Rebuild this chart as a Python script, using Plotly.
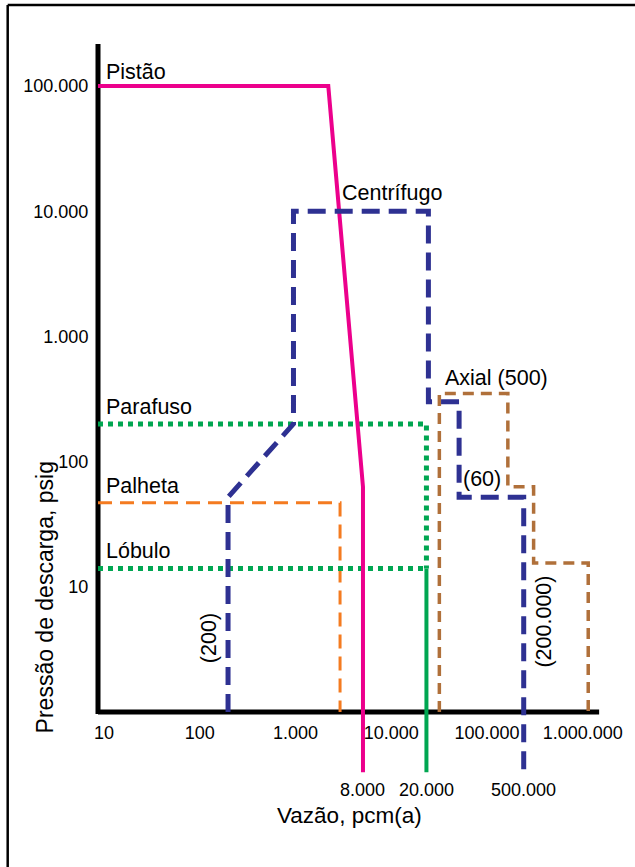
import numpy as np
import plotly.graph_objects as go

# ---------------- data ----------------
PISTAO_X = [10, 2540, 5850, 5850]
PISTAO_Y = [100000, 100000, 63, 0.33]

CENTRIF_X = [228, 228, 1100, 1100, 28200, 28200, 59000, 59000, 279000, 279000]
CENTRIF_Y = [1, 52, 200, 10000, 10000, 300, 300, 52, 52, 0.33]

PALHETA_X = [10, 3370, 3370]
PALHETA_Y = [47, 47, 1]

PARAFUSO_X = [10, 26900, 26900]
PARAFUSO_Y = [200, 200, 14]

LOBULO_X = [10, 26900]
LOBULO_Y = [14, 14]
LOBULO_SOLID_X = [26900, 26900]
LOBULO_SOLID_Y = [14, 0.33]

AXIAL_X = [36700, 36700, 190500, 190500, 354000, 354000, 1316000, 1316000]
AXIAL_Y = [1, 350, 350, 63, 63, 15.5, 15.5, 1]

X_TICK_VALS = [10, 100, 1000, 10000, 100000, 1000000]
X_TICK_TEXT = ["10", "100", "1.000", "10.000", "100.000", "1.000.000"]
Y_TICK_VALS = [10, 100, 1000, 10000, 100000]
Y_TICK_TEXT = ["10", "100", "1.000", "10.000", "100.000"]

LIMIT_LABELS = ["8.000", "20.000", "500.000"]
LIMIT_X = [PISTAO_X[-1], LOBULO_SOLID_X[-1], CENTRIF_X[-1]]

# ---------------- styling ----------------
PINK = "#EC008C"
BLUE = "#2E3192"
ORANGE = "#F47B20"
GREEN = "#00A651"
BROWN = "#B0703A"
FONT = "Liberation Sans, Arial, Helvetica, sans-serif"

W, H = 635, 867
ML, MR, MT, MB = 98, 15, 40, 87
PW = W - ML - MR
PH = H - MT - MB
DEC_X = 96.5
DEC_Y = 125.2
Y_TOP_LOG = 5 + (86 - MT) / DEC_Y
X_RANGE = [1, 1 + PW / DEC_X]
Y_RANGE = [Y_TOP_LOG - PH / DEC_Y, Y_TOP_LOG]


def px(x):
    return (x - ML) / PW


def py(y):
    return (H - MB - y) / PH


fig = go.Figure()


def add_line(xs, ys, color, width, dash="solid"):
    fig.add_trace(go.Scatter(x=xs, y=ys, mode="lines",
                             line=dict(color=color, width=width, dash=dash),
                             hoverinfo="skip", showlegend=False))


add_line(PALHETA_X, PALHETA_Y, ORANGE, 3, "14px,8px")
add_line(AXIAL_X, AXIAL_Y, BROWN, 3.5, "11px,7px")
add_line(PARAFUSO_X, PARAFUSO_Y, GREEN, 5, "5px,5px")
add_line(LOBULO_X, LOBULO_Y, GREEN, 5, "5px,5px")
add_line(LOBULO_SOLID_X, LOBULO_SOLID_Y, GREEN, 4)
add_line(PISTAO_X, PISTAO_Y, PINK, 4)
add_line(CENTRIF_X, CENTRIF_Y, BLUE, 5, "18px,9px")

shapes = [
    # frame
    dict(type="line", xref="paper", yref="paper", x0=px(7), x1=px(640),
         y0=py(5), y1=py(5), line=dict(color="black", width=2.5)),
    dict(type="line", xref="paper", yref="paper", x0=px(7), x1=px(7),
         y0=py(5), y1=py(870), line=dict(color="black", width=2.5)),
    # axis lines
    dict(type="line", xref="paper", yref="paper", x0=px(98), x1=px(603),
         y0=py(712), y1=py(712), line=dict(color="black", width=5), layer="below"),
    dict(type="line", xref="paper", yref="paper", x0=px(98), x1=px(98),
         y0=py(44), y1=py(714), line=dict(color="black", width=5), layer="below"),
]

annots = []


def label(text, x, y, size=21.5, xanchor="left", angle=0):
    annots.append(dict(text=text, xref="paper", yref="paper", x=px(x), y=py(y),
                       xanchor=xanchor, yanchor="middle", showarrow=False,
                       textangle=angle, font=dict(family=FONT, size=size, color="black")))


label("Pistão", 104, 72)
label("Centrífugo", 342, 193)
label("Axial (500)", 446, 378)
label("Parafuso", 104, 407)
label("Palheta", 104, 486)
label("Lóbulo", 104, 551)
label("(60)", 485, 479, xanchor="center")
label("(200)", 210, 638, xanchor="center", angle=-90)
label("(200.000)", 547, 622, xanchor="center", angle=-90)
label("Vazão, pcm(a)", 351, 815, size=22.5, xanchor="center")
label("Pressão de descarga, psig", 45, 597, size=23, xanchor="center", angle=-90)

for t, xv in zip(LIMIT_LABELS, LIMIT_X):
    annots.append(dict(text=t, xref="x", yref="paper", x=np.log10(xv), y=py(790),
                       xanchor="center", yanchor="middle", showarrow=False,
                       font=dict(family=FONT, size=18, color="black")))

fig.update_layout(
    width=W, height=H,
    margin=dict(l=ML, r=MR, t=MT, b=MB),
    paper_bgcolor="white", plot_bgcolor="rgba(0,0,0,0)",
    showlegend=False,
    shapes=shapes, annotations=annots,
    font=dict(family=FONT, color="black"),
    xaxis=dict(type="log", range=X_RANGE, showgrid=False, zeroline=False,
               showline=False, tickvals=X_TICK_VALS, ticktext=X_TICK_TEXT,
               ticks="outside", ticklen=4, tickcolor="rgba(0,0,0,0)",
               ticklabelshift=6,
               anchor="free", position=py(712),
               tickfont=dict(family=FONT, size=18, color="black")),
    yaxis=dict(type="log", range=Y_RANGE, showgrid=False, zeroline=False,
               showline=False, tickvals=Y_TICK_VALS, ticktext=Y_TICK_TEXT,
               ticks="outside", ticklen=5, tickcolor="rgba(0,0,0,0)",
               tickfont=dict(family=FONT, size=18, color="black")),
)

fig.write_html("out.html", config={"displayModeBar": False},
               post_script="document.body.style.margin='0';")
